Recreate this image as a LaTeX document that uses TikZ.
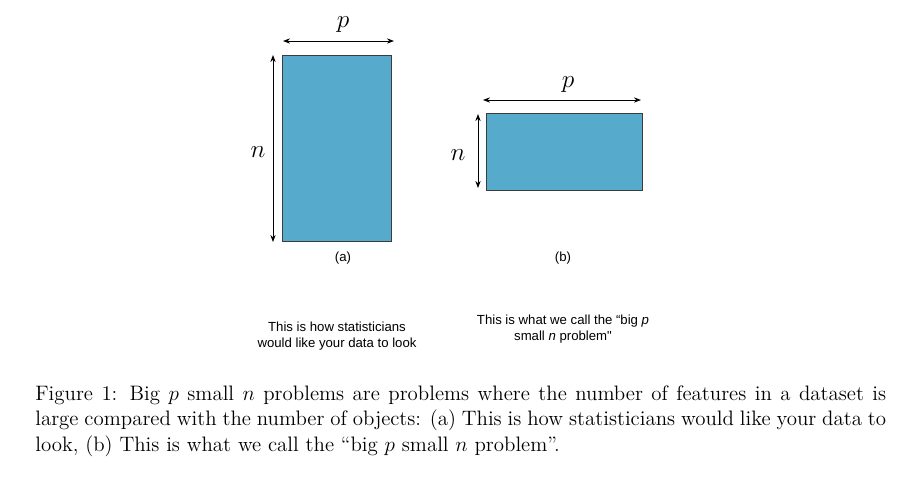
\documentclass[tikz,border=0pt]{standalone}
\usepackage{amsmath, amssymb}
\usepackage{fontspec}
\newfontfamily\labelfont{Liberation Sans}
\usetikzlibrary{arrows.meta, positioning, calc}
\definecolor{databluefill}{RGB}{86,170,203}
\definecolor{dataedge}{RGB}{60,60,60}

\begin{document}
\begin{tikzpicture}[
  x=0.02cm, y=-0.02cm,
  databox/.style={draw=dataedge, fill=databluefill, line width=0.45pt, inner sep=0pt},
  dimarr/.style={{Stealth[length=4pt,width=3pt]}-{Stealth[length=4pt,width=3pt]}, line width=0.5pt},
  dimlbl/.style={font=\Large},
  sublbl/.style={font=\labelfont\fontsize{7.5}{9.2}\selectfont, align=center}
]
  \useasboundingbox (0,0) rectangle (913,481);

  % (a) tall data matrix
  \node[databox, minimum width=2.18cm, minimum height=3.72cm] (recta) at (336.5,148) {};
  \coordinate (pa1) at (283,41);  \coordinate (pa2) at (394,41);
  \coordinate (na1) at (273,55);  \coordinate (na2) at (273,242);
  \draw[dimarr] (pa1) -- (pa2);
  \draw[dimarr] (na1) -- (na2);
  \node[dimlbl] (plbla) at (343,25)  {$p$};
  \node[dimlbl] (nlbla) at (258,152) {$n$};
  \node[sublbl] (capa) at (343,258) {(a)};

  % (b) wide data matrix
  \node[databox, minimum width=3.12cm, minimum height=1.54cm] (rectb) at (564,151.5) {};
  \coordinate (pb1) at (483,100); \coordinate (pb2) at (641,100);
  \coordinate (nb1) at (478,114); \coordinate (nb2) at (478,188);
  \draw[dimarr] (pb1) -- (pb2);
  \draw[dimarr] (nb1) -- (nb2);
  \node[dimlbl] (plblb) at (568,85)  {$p$};
  \node[dimlbl] (nlblb) at (458,155) {$n$};
  \node[sublbl] (capb) at (563,258) {(b)};

  % descriptions
  \node[sublbl] (desca) at (337,336) {This is how statisticians\\would like your data to look};
  \node[sublbl] (descb) at (563,329) {This is what we call the “big \textit{p}\\small \textit{n} problem"};

  % figure caption
  \node[anchor=north west, inner sep=0pt, text width=17.02cm, align=justify,
        font=\fontsize{11.9}{14.6}\selectfont]
    (figcap) at (35,385)
    {Figure 1: Big $p$ small $n$ problems are problems where the number of features in a dataset is\linebreak large compared with the number of objects: (a) This is how statisticians would like your data to\linebreak look, (b) This is what we call the ``big $p$ small $n$ problem''.};
\end{tikzpicture}
\end{document}
